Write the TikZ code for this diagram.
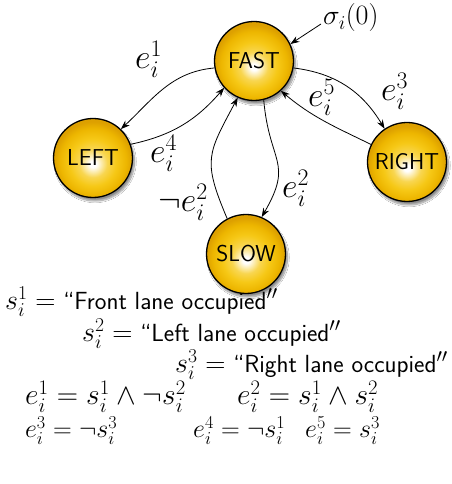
\documentclass[tikz,border=0pt]{standalone}
\usepackage{fix-cm}
\usetikzlibrary{arrows.meta,shadows.blur}
\definecolor{goldA}{HTML}{F6C816}
\definecolor{goldB}{HTML}{EDB600}
\definecolor{goldC}{HTML}{DDA000}
\pgfdeclareradialshading{ballshade}{\pgfpoint{0bp}{-4bp}}{color(0bp)=(white); color(2bp)=(white); color(9bp)=(goldA!75!white); color(15bp)=(goldA); color(21bp)=(goldB); color(25bp)=(goldC); color(50bp)=(goldC)}
\newcommand\qtext[1]{\mbox{\fontsize{24.8}{30}\selectfont\sffamily``#1}}
\begin{document}
\begin{tikzpicture}[x=1pt,y=1pt,
  state/.style={circle, draw=black, line width=1.3pt, minimum size=79pt, inner sep=0pt,
    shading=ballshade,
    blur shadow={shadow xshift=2pt, shadow yshift=-3.5pt, shadow blur steps=10, shadow opacity=45},
    font=\fontsize{23}{27}\selectfont\sffamily},
  edge/.style={line width=0.8pt, -{Stealth[length=9pt,width=6.5pt]}},
  elabel/.style={inner sep=0pt, anchor=base west, font=\fontsize{34}{40}\selectfont},
  eq/.style={inner sep=0pt, anchor=base west, font=\fontsize{28}{32}\selectfont},
  eqbig/.style={inner sep=0pt, anchor=base west, font=\fontsize{29.5}{33}\selectfont},
  eqsmall/.style={inner sep=0pt, anchor=base west, font=\fontsize{26}{30}\selectfont}]
\path[fill=white,use as bounding box] (0,0) rectangle (451,484);

\node[state] (fast)  at (254,423) {FAST};
\node[state] (left)  at (93,326)  {LEFT};
\node[state] (right) at (407,322) {RIGHT};
\node[state] (slow)  at (246,230) {SLOW};

\node[eq] (sigma) at (323,459) {$\sigma_i(0)$};

\draw[edge] (fast.190) to[out=185,in=43] (left.46);
\draw[edge] (left.20) to[out=12,in=229] (fast.222);
\draw[edge] (slow.118) to[out=113,in=242,looseness=1.35] (fast.246);
\draw[edge] (fast.-76) to[out=-85,in=60,looseness=1.4] (slow.67);
\draw[edge] (fast.-10) to[out=-7,in=121] (right.124);
\draw[edge] (right.154) to[out=154,in=-40] (fast.-48);
\draw[edge] (sigma.base west) ++(-2,1) -- (fast.25);

\node[elabel] (l1) at (135,415) {$e_i^1$};
\node[elabel] (l4) at (150,321) {$e_i^4$};
\node[elabel] (l2n) at (158,272) {$\neg e_i^2$};
\node[elabel] (l2) at (282,286) {$e_i^2$};
\node[elabel] (l5) at (308,377) {$e_i^5$};
\node[elabel] (l3) at (381,383) {$e_i^3$};

\node[eq] (s1) at (5,174)   {$s_i^1 = \qtext{Front lane occupied}''$};
\node[eq] (s2) at (82,142)  {$s_i^2 = \qtext{Left lane occupied}''$};
\node[eq] (s3) at (175,111) {$s_i^3 = \qtext{Right lane occupied}''$};

\node[eqbig] (q1) at (25,79)  {$e_i^1 = s_i^1 \wedge \neg s_i^2$};
\node[eqbig] (q2) at (237,79) {$e_i^2 = s_i^1 \wedge s_i^2$};
\node[eqsmall] (q3) at (25,46)  {$e_i^3 = \neg s_i^3$};
\node[eqsmall] (q4) at (193,46) {$e_i^4 = \neg s_i^1$};
\node[eqsmall] (q5) at (305,46) {$e_i^5 = s_i^3$};
\end{tikzpicture}
\end{document}
